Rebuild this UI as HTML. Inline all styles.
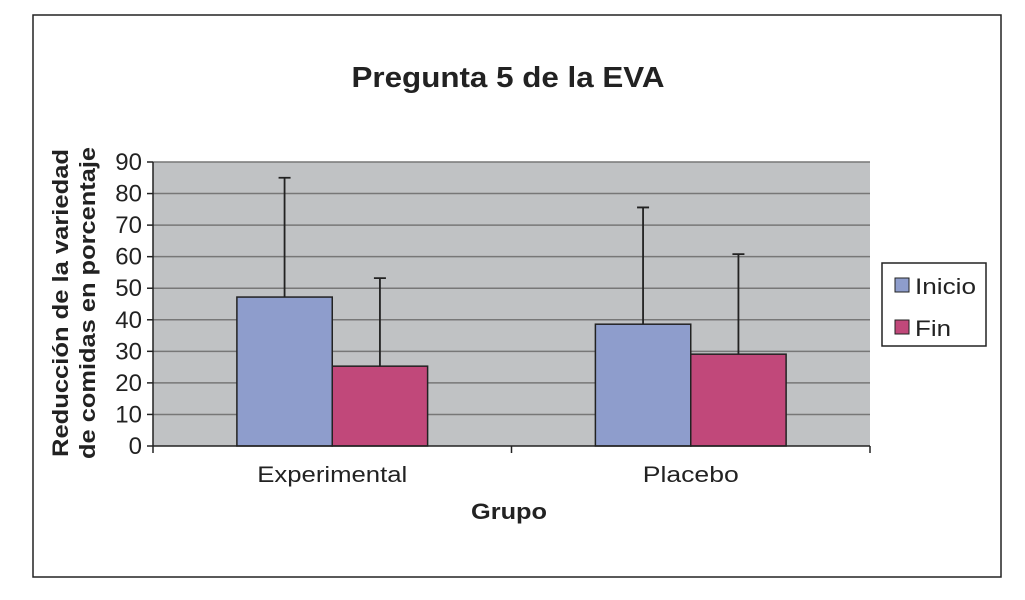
<!DOCTYPE html>
<html><head><meta charset="utf-8"><style>
body{margin:0;background:#fff;width:1025px;height:600px;overflow:hidden}
svg{display:block;font-family:"Liberation Sans",sans-serif}
</style></head><body>
<svg width="1025" height="600">
<rect x="33" y="15" width="968" height="562" fill="#fff" stroke="#222" stroke-width="1.5"/>
<text x="508" y="87" text-anchor="middle" font-size="29" font-weight="bold" fill="#222" textLength="313" lengthAdjust="spacingAndGlyphs">Pregunta 5 de la EVA</text>
<rect x="153" y="162" width="717" height="284" fill="#c0c2c4"/>
<g id="grid"></g><g id="bars"></g><g id="axes"></g>
<g transform="translate(68,303) rotate(-90)">
<text x="0" y="0" text-anchor="middle" font-size="22" font-weight="bold" fill="#222" textLength="308" lengthAdjust="spacingAndGlyphs">Reducción de la variedad</text>
<text x="0" y="27" text-anchor="middle" font-size="22" font-weight="bold" fill="#222" textLength="312" lengthAdjust="spacingAndGlyphs">de comidas en porcentaje</text>
</g>
<text x="509" y="519" text-anchor="middle" font-size="22" font-weight="bold" fill="#222" textLength="76" lengthAdjust="spacingAndGlyphs">Grupo</text>
<rect x="882" y="263" width="104" height="83" fill="#fff" stroke="#222" stroke-width="1.5"/>
<g><rect x="895" y="278" width="14" height="14" fill="#8e9dcc" stroke="#222"/><text x="915" y="294" font-size="22" fill="#222" textLength="61" lengthAdjust="spacingAndGlyphs">Inicio</text></g>
<g><rect x="895" y="320" width="14" height="14" fill="#c1487a" stroke="#222"/><text x="915" y="336" font-size="22" fill="#222" textLength="36" lengthAdjust="spacingAndGlyphs">Fin</text></g>
</svg>
<script>
const categories=["Experimental","Placebo"];
const inicio=[47.2,38.6];
const fin=[25.3,29.1];
const inicioErr=[85,75.6];
const finErr=[53.2,60.8];
const yTicks=[0,10,20,30,40,50,60,70,80,90];
const labelWidths=[150,96];
const NS="http://www.w3.org/2000/svg";
const X0=153,X1=870,Y0=446,Y1=162,YMAX=90;
const y=v=>Y0-(v/YMAX)*(Y0-Y1);
const band=(X1-X0)/categories.length;
function mk(p,tag,a){const e=document.createElementNS(NS,tag);for(const k in a)e.setAttribute(k,a[k]);p.appendChild(e);return e;}
const grid=document.getElementById('grid'),bars=document.getElementById('bars'),axes=document.getElementById('axes');
yTicks.forEach(t=>{
 if(t>0){const l=mk(grid,'line',{x1:X0,x2:X1,y1:y(t),y2:y(t),stroke:'#777','stroke-width':1.5});
 
 }
 mk(axes,'line',{x1:X0-6,x2:X0,y1:y(t),y2:y(t),stroke:'#222','stroke-width':1.5});
 const tx=mk(axes,'text',{x:X0-11,y:y(t)+8,'text-anchor':'end','font-size':24,fill:'#222'});tx.textContent=t;
 
 
});
mk(axes,'line',{x1:X0,x2:X0,y1:Y1,y2:Y0,stroke:'#222','stroke-width':1.5});
mk(axes,'line',{x1:X0,x2:X1,y1:Y0,y2:Y0,stroke:'#222','stroke-width':1.5});
for(let i=0;i<=categories.length;i++)mk(axes,'line',{x1:X0+i*band,x2:X0+i*band,y1:Y0,y2:Y0+7,stroke:'#222','stroke-width':1.5});
const bw=band*0.266;
categories.forEach((c,i)=>{
 const cx=X0+band*(i+0.5);
 [[inicio,inicioErr,'#8e9dcc','bar-inicio-'],[fin,finErr,'#c1487a','bar-fin-']].forEach((s,j)=>{
  const bx=cx-bw+j*bw;
  const r=mk(bars,'rect',{x:bx,y:y(s[0][i]),width:bw,height:Y0-y(s[0][i]),fill:s[2],stroke:'#222','stroke-width':1.5});
  
  
  const mx=bx+bw/2;
  const e=mk(bars,'path',{d:`M${mx},${y(s[0][i])}V${y(s[1][i])}M${mx-6},${y(s[1][i])}H${mx+6}`,stroke:'#222','stroke-width':1.8,fill:'none'});
  
  
 });
 const t=mk(axes,'text',{x:cx,y:482,'text-anchor':'middle','font-size':22,fill:'#222',textLength:labelWidths[i],lengthAdjust:'spacingAndGlyphs'});t.textContent=c;
 
 
});
</script>
</body></html>
